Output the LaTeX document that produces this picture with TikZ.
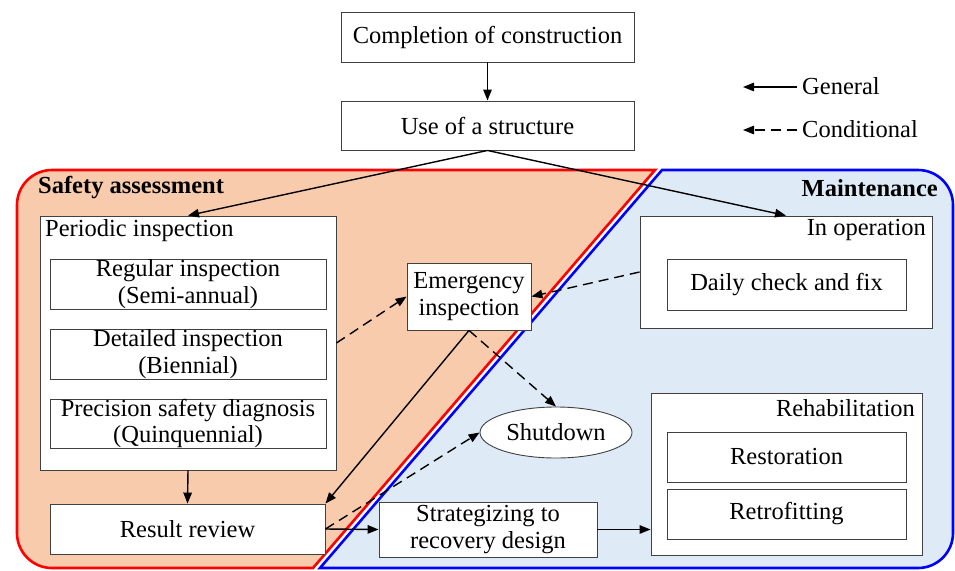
\documentclass[tikz,border=0pt]{standalone}
\usepackage{fontspec}
\setmainfont{Liberation Serif}
\usetikzlibrary{arrows.meta,shapes.geometric}
\definecolor{peach}{HTML}{F8CBAD}
\definecolor{paleblue}{HTML}{DEEBF7}
\begin{document}
\begin{tikzpicture}[x=1pt,y=-1pt,
  every node/.style={font=\fontsize{24.5}{26.5}\selectfont},
  box/.style={draw=black!75, line width=0.9pt, fill=white, inner sep=0pt, align=center},
  lbl/.style={inner sep=0pt},
  arr/.style={line width=1.4pt, -{Triangle[length=11pt,width=8.5pt]}},
  darr/.style={arr, dash pattern=on 10pt off 6pt}]
\useasboundingbox (0,0) rectangle (955,570);
% regions
\fill[peach] (655,170) -- (52,170) arc[start angle=270,end angle=180,radius=35]
  -- (17,533) arc[start angle=180,end angle=90,radius=35] -- (313,568) -- cycle;
\fill[paleblue] (662,170) -- (918,170) arc[start angle=270,end angle=360,radius=35]
  -- (953,533) arc[start angle=0,end angle=90,radius=35] -- (320,568) -- cycle;
\draw[red, line width=2.6pt] (655,170) -- (52,170) arc[start angle=270,end angle=180,radius=35]
  -- (17,533) arc[start angle=180,end angle=90,radius=35] -- (313,568) -- cycle;
\draw[blue, line width=2.6pt] (662,170) -- (918,170) arc[start angle=270,end angle=360,radius=35]
  -- (953,533) arc[start angle=0,end angle=90,radius=35] -- (320,568) -- cycle;
\node[lbl, anchor=west, font=\fontsize{24.5}{26.5}\selectfont\bfseries] (sa) at (38,188) {Safety assessment};
\node[lbl, anchor=east, font=\fontsize{24.5}{26.5}\selectfont\bfseries] (mt) at (938,188) {Maintenance};
% nodes
\node[box, minimum width=293, minimum height=50] (comp) at (487.5,37) {Completion of construction};
\node[box, minimum width=293, minimum height=49] (use) at (487.5,125.5) {Use of a structure};
\node[box, minimum width=296, minimum height=254] (periodic) at (188,343) {};
\node[lbl, anchor=west] (periodiclbl) at (45,231) {Periodic inspection};
\node[box, minimum width=276, minimum height=50] (regular) at (188,284) {Regular inspection\\(Semi-annual)};
\node[box, minimum width=276, minimum height=50] (detailed) at (188,354) {Detailed inspection\\(Biennial)};
\node[box, minimum width=276, minimum height=49] (precision) at (188,423.5) {Precision safety diagnosis\\(Quinquennial)};
\node[box, minimum width=124, minimum height=67] (emergency) at (469,296.5) {Emergency\\inspection};
\node[box, ellipse, minimum width=152, minimum height=51] (shutdown) at (556,432.5) {Shutdown};
\node[box, minimum width=275, minimum height=50] (review) at (187.5,529) {Result review};
\node[box, minimum width=218, minimum height=55] (strat) at (488,529.5) {Strategizing to\\recovery design};
\node[box, minimum width=271, minimum height=162] (rehab) at (786.5,474) {};
\node[lbl, anchor=east] (rehablbl) at (915,408) {Rehabilitation};
\node[box, minimum width=239, minimum height=50] (restoration) at (786.5,457) {Restoration};
\node[box, minimum width=239, minimum height=50] (retrofitting) at (786.5,514) {Retrofitting};
\node[box, minimum width=292, minimum height=112] (inop) at (786,272) {};
\node[lbl, anchor=east] (inoplbl) at (926,230) {In operation};
\node[box, minimum width=239, minimum height=51] (daily) at (786.5,284.5) {Daily check and fix};
% legend
\node[lbl, anchor=west] (gen) at (802,86) {General};
\node[lbl, anchor=west] (cond) at (802,129) {Conditional};
\coordinate (genend) at (743,87);
\coordinate (condend) at (743,130);
\draw[arr] (gen.west |- genend) ++(-5,0) -- (genend);
\draw[darr] (cond.west |- condend) ++(-5,0) -- (condend);
% connectors
\draw[arr] (comp.south) -- (use.north);
\draw[arr] (use.south) -- (periodic.north);
\draw[arr] (use.south) -- (inop.north);
\draw[darr] (periodic.east) -- (emergency.west);
\draw[darr] (inop.west) -- (emergency.east);
\draw[darr] (emergency.south) -- (shutdown.north);
\draw[arr] (emergency.south) -- (review.north east);
\draw[darr] (review.east) -- (shutdown.west);
\draw[arr] (review.east) -- (strat.west);
\draw[arr] (strat.east) -- (strat.east -| rehab.west);
\draw[arr] (periodic.south) -- (review.north);
\end{tikzpicture}
\end{document}
